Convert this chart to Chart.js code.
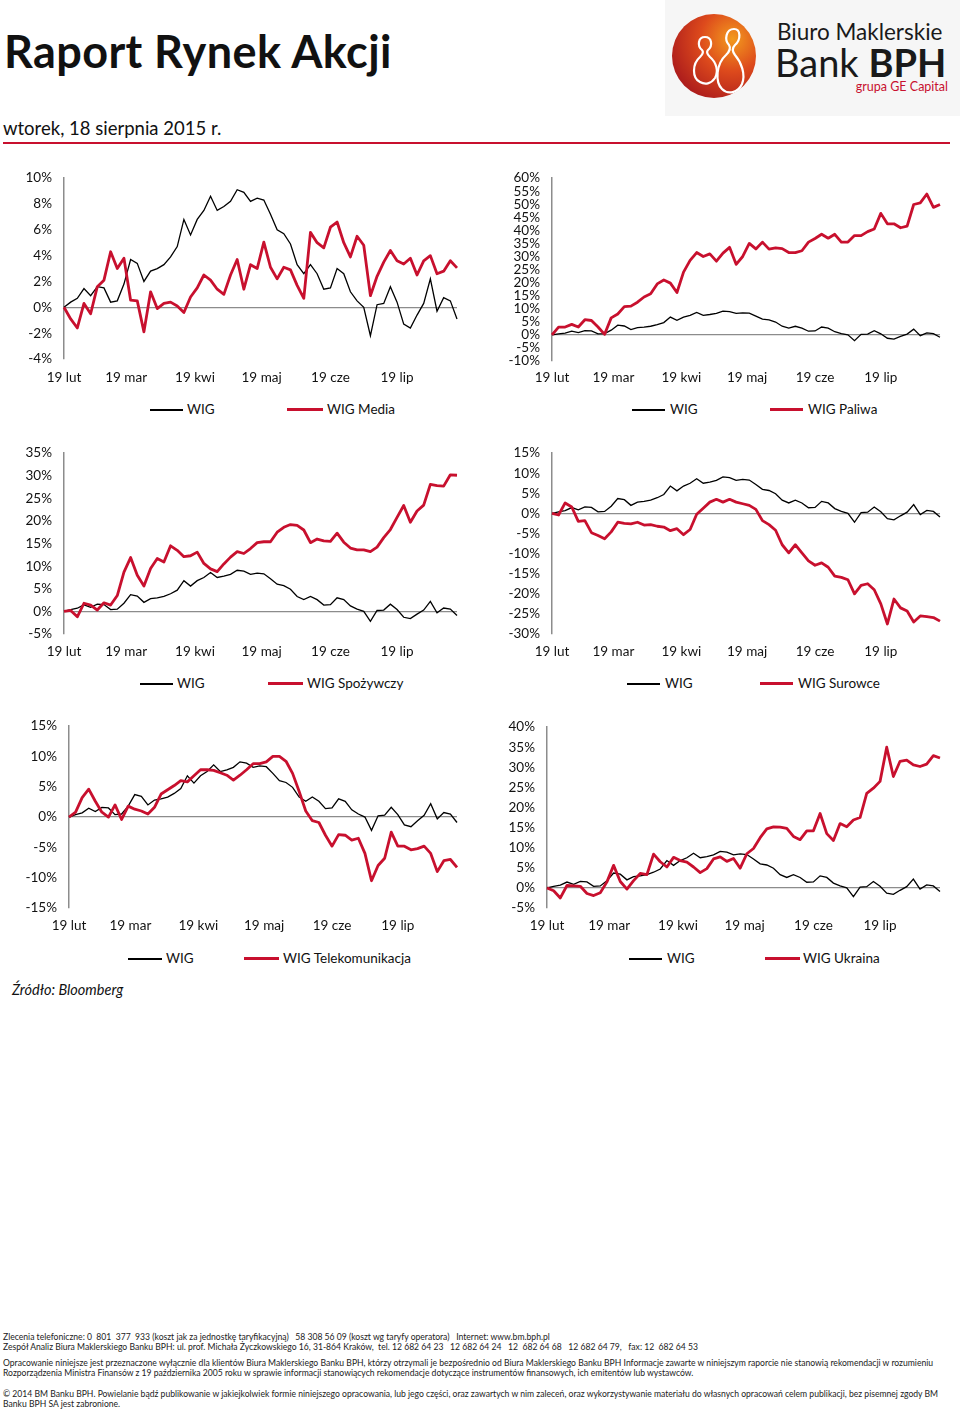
<!DOCTYPE html>
<html lang="pl">
<head>
<meta charset="utf-8">
<title>Raport Rynek Akcji</title>
<script src="https://cdn.jsdelivr.net/npm/chart.js@4.4.1/dist/chart.umd.min.js"></script>
<style>
body{margin:0;background:#fff;font-family:Lato,"Open Sans",sans-serif;color:#111}
#page{position:relative;width:960px;height:1411px;overflow:hidden;background:#fff}
.t{position:absolute;white-space:nowrap}
canvas{position:absolute}
.lg{position:absolute;font-size:13.5px;line-height:16px;white-space:nowrap;color:#111}
.lg i{position:absolute;left:0;display:block}
.foot{position:absolute;left:3px;font-size:8.6px;line-height:10px;white-space:nowrap;color:#222}
</style>
</head>
<body>
<div id="page">

<div class="t" style="left:4px;top:24px;font-size:45px;font-weight:700;letter-spacing:0.4px">Raport Rynek Akcji</div>

<!-- logo -->
<div class="t" style="left:665px;top:0;width:295px;height:116px;background:#f6f6f6"></div>
<svg class="t" style="left:665px;top:0" width="295" height="116" viewBox="0 0 295 116">
<defs>
<radialGradient id="lg1" cx="0.72" cy="0.3" r="0.85">
<stop offset="0" stop-color="#f39a1e"/>
<stop offset="0.45" stop-color="#dd4a1c"/>
<stop offset="1" stop-color="#a6161c"/>
</radialGradient>
</defs>
<circle cx="49" cy="56" r="42" fill="url(#lg1)"/>
<path d="M40 37 C33 37 32 46 37 50 C39 52 38 54 35 57 C27 64 27 78 35 82 C40 85 46 84 50 78 C54 71 51 62 45 57 C42 54 41 52 43 50 C48 46 47 37 40 37 Z" fill="none" stroke="#fff" stroke-width="2.2"/>
<path d="M69 29 C61 29 59 40 64 45 C66 48 65 51 61 55 C51 64 50 82 57 89 C63 95 73 93 77 84 C81 74 76 62 70 55 C67 51 67 48 70 45 C76 40 76 29 69 29 Z" fill="none" stroke="#fff" stroke-width="2.2"/>
<text x="112" y="40" font-family="Lato" font-size="22.5" fill="#1a1a1a">Biuro Maklerskie</text>
<text x="110" y="77" font-family="Lato" font-size="38" fill="#1a1a1a">Bank <tspan font-weight="700">BPH</tspan></text>
<text x="283" y="91" font-family="Lato" font-size="12.5" fill="#c8102e" text-anchor="end">grupa GE Capital</text>
</svg>

<div class="t" style="left:3px;top:117px;font-size:18.5px">wtorek, 18 sierpnia 2015 r.</div>
<div class="t" style="left:3px;top:142px;width:947px;height:2px;background:#c8102e"></div>

<canvas id="c1"></canvas>
<canvas id="c2"></canvas>
<canvas id="c3"></canvas>
<canvas id="c4"></canvas>
<canvas id="c5"></canvas>
<canvas id="c6"></canvas>

<!-- legends -->
<div class="lg" style="left:150px;top:401px"><i style="top:8px;width:33px;height:1.5px;background:#000"></i><span style="margin-left:37px">WIG</span></div>
<div class="lg" style="left:287px;top:401px"><i style="top:7px;width:36px;height:3px;background:#c8102e"></i><span style="margin-left:40px">WIG Media</span></div>
<div class="lg" style="left:632px;top:401px"><i style="top:8px;width:33px;height:1.5px;background:#000"></i><span style="margin-left:38px">WIG</span></div>
<div class="lg" style="left:770px;top:401px"><i style="top:7px;width:33px;height:3px;background:#c8102e"></i><span style="margin-left:38px">WIG Paliwa</span></div>

<div class="lg" style="left:140px;top:675px"><i style="top:8px;width:33px;height:1.5px;background:#000"></i><span style="margin-left:37px">WIG</span></div>
<div class="lg" style="left:268px;top:675px"><i style="top:7px;width:35px;height:3px;background:#c8102e"></i><span style="margin-left:39px">WIG Spożywczy</span></div>
<div class="lg" style="left:627px;top:675px"><i style="top:8px;width:33px;height:1.5px;background:#000"></i><span style="margin-left:38px">WIG</span></div>
<div class="lg" style="left:760px;top:675px"><i style="top:7px;width:33px;height:3px;background:#c8102e"></i><span style="margin-left:38px">WIG Surowce</span></div>

<div class="lg" style="left:128px;top:950px"><i style="top:8px;width:34px;height:1.5px;background:#000"></i><span style="margin-left:38px">WIG</span></div>
<div class="lg" style="left:244px;top:950px"><i style="top:7px;width:35px;height:3px;background:#c8102e"></i><span style="margin-left:39px">WIG Telekomunikacja</span></div>
<div class="lg" style="left:629px;top:950px"><i style="top:8px;width:33px;height:1.5px;background:#000"></i><span style="margin-left:38px">WIG</span></div>
<div class="lg" style="left:765px;top:950px"><i style="top:7px;width:35px;height:3px;background:#c8102e"></i><span style="margin-left:38px">WIG Ukraina</span></div>

<div class="t" style="left:12px;top:981px;font-size:14.5px;font-style:italic">Źródło: Bloomberg</div>

<div class="foot" style="top:1332px">Zlecenia telefoniczne: 0&nbsp; 801&nbsp; 377&nbsp; 933 (koszt jak za jednostkę taryfikacyjną)&nbsp;&nbsp; 58 308 56 09 (koszt wg taryfy operatora)&nbsp;&nbsp; Internet: www.bm.bph.pl</div>
<div class="foot" style="top:1342px">Zespół Analiz Biura Maklerskiego Banku BPH: ul. prof. Michała Życzkowskiego 16, 31-864 Kraków,&nbsp; tel. 12 682 64 23&nbsp;&nbsp; 12 682 64 24&nbsp;&nbsp; 12&nbsp; 682 64 68&nbsp;&nbsp; 12 682 64 79,&nbsp;&nbsp; fax: 12&nbsp; 682 64 53</div>
<div class="foot" style="top:1358px">Opracowanie niniejsze jest przeznaczone wyłącznie dla klientów Biura Maklerskiego Banku BPH, którzy otrzymali je bezpośrednio od Biura Maklerskiego Banku BPH Informacje zawarte w niniejszym raporcie nie stanowią rekomendacji w rozumieniu</div>
<div class="foot" style="top:1368px">Rozporządzenia Ministra Finansów z 19 października 2005 roku w sprawie informacji stanowiących rekomendacje dotyczące instrumentów finansowych, ich emitentów lub wystawców.</div>
<div class="foot" style="top:1389px">© 2014 BM Banku BPH. Powielanie bądź publikowanie w jakiejkolwiek formie niniejszego opracowania, lub jego części, oraz zawartych w nim zaleceń, oraz wykorzystywanie materiału do własnych opracowań celem publikacji, bez pisemnej zgody BM</div>
<div class="foot" style="top:1399px">Banku BPH SA jest zabronione.</div>

</div>

<script>
// days since 19 Feb 2015 (sampled every 3rd day)
const days=[0,3,6,9,12,15,18,21,24,27,30,33,36,39,42,45,48,51,54,57,60,63,66,69,72,75,78,81,84,87,90,93,96,99,102,105,108,111,114,117,120,123,126,129,132,135,138,141,144,147,150,153,156,159,162,165,168,171,174,177]

// x tick positions and labels
const tickDays=[0,28,59,89,120,150]
const tickLabels=['19 lut','19 mar','19 kwi','19 maj','19 cze','19 lip']

// % change since 19 Feb
const wig=[0,0.4,0.7,1.45,0.9,1.6,1.5,0.4,0.5,1.8,3.7,3.4,2.0,2.8,3.0,3.3,3.9,4.7,6.8,5.6,6.8,7.5,8.6,7.5,7.8,8.2,9.1,8.9,8.2,8.45,8.3,7.2,6.0,5.7,4.9,3.3,2.6,3.3,2.6,1.4,1.5,3.0,2.6,1.2,0.5,0.0,-2.2,0.2,0.3,1.6,0.4,-1.3,-1.6,-0.6,0.3,2.2,-0.3,0.75,0.5,-0.9]
const media=[0,-0.9,-1.6,0.3,-0.5,1.6,2.1,4.3,3.0,3.8,0.55,0.5,-1.9,1.2,-0.1,0.3,0.4,0.1,-0.4,0.8,1.5,2.5,2.1,1.4,1.0,2.5,3.7,1.4,3.3,3.0,5.05,3.1,2.2,3.1,2.9,1.7,0.7,5.8,5.0,4.6,6.2,6.6,5.0,3.9,5.5,4.8,0.9,2.4,3.5,4.4,3.6,3.35,3.8,2.5,3.6,4.0,2.6,2.8,3.6,3.05]
const paliwa=[0,3.0,3.0,4.0,3.0,5.8,5.5,3.0,0.2,6.5,8.0,10.8,11.0,12.5,14.5,15.7,19.5,21.0,19.8,16.2,24,28.5,31.5,30.0,31.0,28.2,31.3,33.5,27.0,30.0,35.0,32.9,35.5,32.8,33.3,33.0,31.5,31.5,32.2,35.5,36.9,38.5,37.0,38.5,35.5,35.5,38.0,38.0,39.5,40.5,46.5,42.5,42.5,41.0,41.6,49.9,50.5,53.9,48.8,49.9]
const spozywczy=[0,0.2,-1.2,1.8,1.4,0.3,1.9,1.4,3.5,8.7,11.9,8.0,5.6,9.5,11.7,10.9,14.5,13.5,12.1,12.3,13.1,10.6,9.4,8.8,10.5,12.0,13.2,12.8,13.9,15.2,15.4,15.4,17.5,18.6,19.2,19.0,18.0,15.2,16.0,15.6,15.5,17.3,15.3,14.0,13.6,13.6,13.2,14.2,16.3,18.1,20.8,23.4,19.7,22.2,23.5,28.1,27.8,27.7,30.2,30.1]
const surowce=[0,-0.4,2.6,1.6,-2.0,-1.8,-4.8,-5.5,-6.3,-4.6,-2.2,-2.5,-2.6,-2.2,-2.9,-2.8,-3.2,-3.4,-4.3,-3.8,-5.3,-4.0,-0.2,1.3,2.8,3.5,2.8,3.5,2.8,2.4,2.0,1.0,-1.8,-2.8,-4.2,-7.8,-9.8,-7.8,-9.8,-11.8,-12.9,-12.3,-13.4,-15.6,-15.9,-16.5,-20.0,-17.9,-17.5,-19.0,-22.5,-27.5,-21.3,-23.5,-24.3,-27.0,-25.5,-25.7,-25.9,-26.8]
const telekom=[0,0.8,3.2,4.6,2.6,0.8,0,2.0,-0.4,1.8,1.3,1.0,0.5,1.6,3.8,4.5,5.2,6.0,5.8,6.8,7.8,7.8,7.7,7.3,6.9,6.1,6.9,7.8,8.8,8.8,9.1,10.0,10.0,9.2,7.2,4.2,1.0,-0.6,-0.9,-3.0,-4.8,-2.9,-3.0,-3.8,-3.5,-6.0,-10.5,-8.0,-6.8,-2.5,-4.8,-4.8,-5.4,-5.2,-4.8,-6.0,-9.0,-7.2,-7.0,-8.3]
const ukraina=[0,-0.7,-2.5,0.6,0.5,0.4,-1.4,-1.9,-1.2,1.5,5.6,1.6,-0.3,1.8,3.6,3.3,8.4,6.5,5.2,7.6,6.8,6.4,5.2,3.8,4.8,7.2,7.7,6.6,7.3,4.9,8.5,9.8,12.5,14.7,15.2,15.1,14.8,12.8,12.0,14.2,14.2,18.5,13.5,11.8,16.0,15.2,16.9,17.5,23.5,24.8,26.5,35.0,27.7,31.5,31.8,30.6,30.2,30.8,32.9,32.3]

const RED='#c8102e'
const AXIS_W=60, PAD_R=4, XAXIS_H=30
const FONT={family:'Lato',size:13.5}

function pts(vals){
    return days.map((d,i)=>({x:d,y:vals[i]}))
}

// box = [plot left, plot top, plot right, plot bottom, x label centre y]
function makeChart(cv,redName,redVals,yMin,yMax,yStep,box,topOff){
    let left=box[0]-AXIS_W, top=box[1]-topOff
    let w=box[2]-left+PAD_R, h=box[3]-box[1]+topOff+XAXIS_H
    cv.style.left=left+'px'; cv.style.top=top+'px'
    cv.width=w; cv.height=h
    cv.style.width=w+'px'; cv.style.height=h+'px'
    let xPad=box[4]-box[3]-FONT.size*0.6

    return new Chart(cv,{
        type:'line',
        data:{
            datasets:[{
                label:'WIG',
                data:pts(wig),
                borderColor:'#000',
                borderWidth:1.3,
                pointRadius:0,
                tension:0,
                order:2,
                clip:false
            },{
                label:redName,
                data:pts(redVals),
                borderColor:RED,
                borderWidth:2.8,
                borderJoinStyle:'round',
                pointRadius:0,
                tension:0,
                order:1,
                clip:false
            }]
        },
        options:{
            responsive:false,
            maintainAspectRatio:false,
            animation:false,
            devicePixelRatio:1,
            layout:{padding:{top:0,right:PAD_R,left:0,bottom:0}},
            plugins:{legend:{display:false},tooltip:{enabled:false}},
            scales:{
                x:{
                    type:'linear',min:0,max:177,
                    afterBuildTicks:s=>{ s.ticks=tickDays.map(v=>({value:v})) },
                    afterFit:s=>{ s.height=XAXIS_H },
                    grid:{display:false,drawTicks:false},
                    border:{display:false},
                    ticks:{
                        autoSkip:false,maxRotation:0,
                        padding:xPad,
                        color:'#111',font:FONT,
                        callback:(v,i)=>tickLabels[i]
                    }
                },
                y:{
                    min:yMin,max:yMax,
                    afterFit:s=>{ s.width=AXIS_W },
                    border:{display:true,color:'#8c8c8c',width:1.5},
                    grid:{
                        drawTicks:false,
                        color:c=>c.tick && c.tick.value===0 ? '#8c8c8c' : 'rgba(0,0,0,0)',
                        lineWidth:1.2
                    },
                    ticks:{
                        stepSize:yStep,autoSkip:false,
                        padding:12,color:'#111',font:FONT,
                        callback:v=>v+'%'
                    }
                }
            }
        }
    })
}

function drawChart(id,redName,redVals,yMin,yMax,yStep,box){
    let cv=document.getElementById(id)
    let guess=8
    let ch=makeChart(cv,redName,redVals,yMin,yMax,yStep,box,guess)
    let real=ch.chartArea.top
    if(Math.abs(real-guess)>0.3){
        // plot area starts lower/higher than guessed: rebuild with measured offset
        ch.destroy()
        ch=makeChart(cv,redName,redVals,yMin,yMax,yStep,box,real)
    }
    return ch
}

drawChart('c1','WIG Media',media,-4,10,2,[64,178,457,359,378])
drawChart('c2','WIG Paliwa',paliwa,-10,60,5,[552,178,940,361,378])
drawChart('c3','WIG Spożywczy',spozywczy,-5,35,5,[64,453,457,634,652])
drawChart('c4','WIG Surowce',surowce,-30,15,5,[552,453,940,634,652])
drawChart('c5','WIG Telekomunikacja',telekom,-15,15,5,[69,726,457,908,926])
drawChart('c6','WIG Ukraina',ukraina,-5,40,5,[547,727,940,908,926])
</script>
</body>
</html>
